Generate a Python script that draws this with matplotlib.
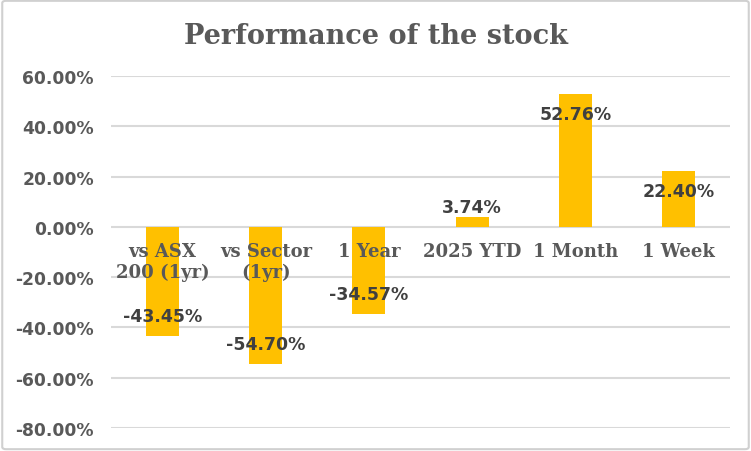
import matplotlib
matplotlib.use("Agg")
import matplotlib.pyplot as plt
from matplotlib.patches import FancyBboxPatch
from matplotlib.ticker import FuncFormatter

categories = ["vs ASX\n200 (1yr)", "vs Sector\n(1yr)", "1 Year", "2025 YTD", "1 Month", "1 Week"]
values = [-43.45, -54.70, -34.57, 3.74, 52.76, 22.40]
yticks = [60, 40, 20, 0, -20, -40, -60, -80]

bar_color = "#FFC000"
grid_color = "#D9D9D9"
tick_color = "#595959"
label_color = "#404040"

fig = plt.figure(figsize=(7.51, 4.52), dpi=100)
fig.patch.set_facecolor("white")
border = FancyBboxPatch((0.003, 0.004), 0.994, 0.992, boxstyle="round,pad=0,rounding_size=0.005",
                        transform=fig.transFigure, fill=False, edgecolor="#D0D0D0", linewidth=1.5)
fig.patches.append(border)

ax = fig.add_axes([0.148, 0.0509, 0.824, 0.7787])
x = list(range(len(categories)))
ax.bar(x, values, width=0.32, color=bar_color, zorder=3)
ax.set_ylim(-80, 60)
ax.set_xlim(-0.5, len(categories) - 0.5)
ax.set_yticks(yticks)
ax.yaxis.set_major_formatter(FuncFormatter(lambda v, p: f"{v:.2f}%"))
ax.grid(axis="y", color=grid_color, linewidth=1.5, zorder=0)
ax.set_xticks([])
for s in ax.spines.values():
    s.set_visible(False)
ax.tick_params(axis="y", length=0, pad=12.5, labelsize=12.3, labelcolor=tick_color)
for t in ax.get_yticklabels():
    t.set_fontweight("bold")
    t.set_fontfamily("DejaVu Sans")

for i, (c, v) in enumerate(zip(categories, values)):
    ax.text(i, -6.0, c, ha="center", va="top", fontsize=13, fontweight="bold",
            family="DejaVu Serif", color=tick_color, linespacing=1.2, zorder=4)
    if abs(v) > 10:
        ly = v - 8 if v > 0 else v + 8
    else:
        ly = v + 4.3
    ax.text(i, ly, f"{v:.2f}%", ha="center", va="center", fontsize=12.5, fontweight="bold",
            family="DejaVu Sans", color=label_color, zorder=5)

fig.text(0.5, 0.92, "Performance of the stock", ha="center", va="center", fontsize=19.5,
         fontweight="bold", family="DejaVu Serif", color=tick_color)

fig.savefig("out.png", dpi=100)
